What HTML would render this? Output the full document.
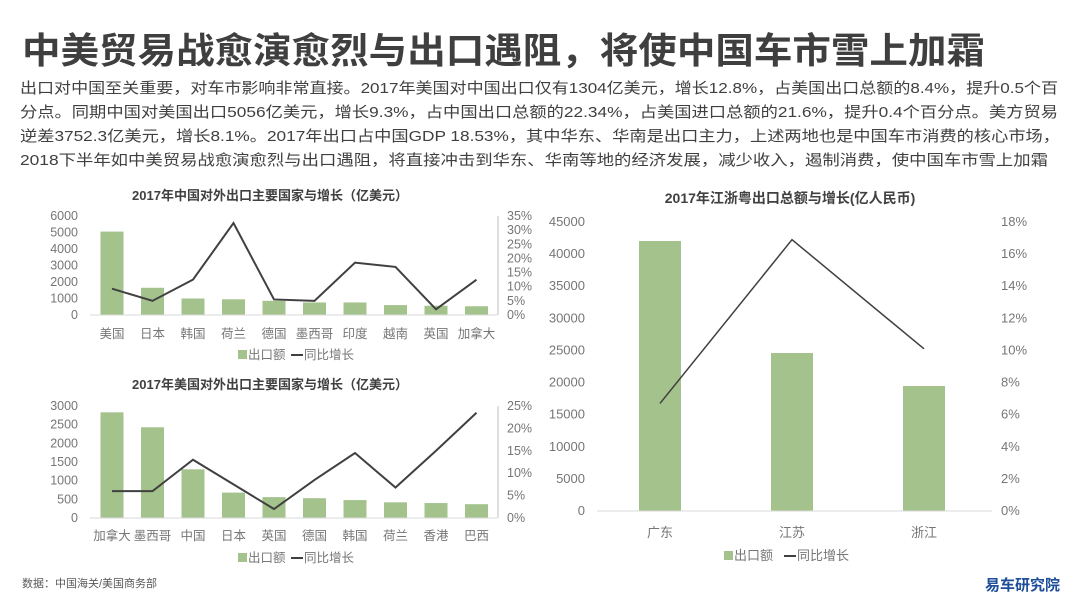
<!DOCTYPE html>
<html><head><meta charset="utf-8"><style>
body{margin:0;background:#fff;}
svg text{font-family:"Liberation Sans","Noto Sans CJK SC",sans-serif;}
</style></head><body>
<svg id="s" width="1080" height="608" viewBox="0 0 1080 608" xmlns="http://www.w3.org/2000/svg">
<text x="22" y="63" font-size="36" font-weight="bold" fill="#3f3f3f" textLength="963" lengthAdjust="spacingAndGlyphs">中美贸易战愈演愈烈与出口遇阻，将使中国车市雪上加霜</text>
<g font-size="15" fill="#404040">
<text x="20" y="93" textLength="1038" lengthAdjust="spacingAndGlyphs">出口对中国至关重要，对车市影响非常直接。2017年美国对中国出口仅有1304亿美元，增长12.8%，占美国出口总额的8.4%，提升0.5个百</text>
<text x="20" y="117" textLength="1038" lengthAdjust="spacingAndGlyphs">分点。同期中国对美国出口5056亿美元，增长9.3%，占中国出口总额的22.34%，占美国进口总额的21.6%，提升0.4个百分点。美方贸易</text>
<text x="20" y="141" textLength="1040" lengthAdjust="spacingAndGlyphs">逆差3752.3亿美元，增长8.1%。2017年出口占中国GDP 18.53%，其中华东、华南是出口主力，上述两地也是中国车市消费的核心市场，</text>
<text x="20" y="165" textLength="1028" lengthAdjust="spacingAndGlyphs">2018下半年如中美贸易战愈演愈烈与出口遇阻，将直接冲击到华东、华南等地的经济发展，减少收入，遏制消费，使中国车市雪上加霜</text>
</g>
<text x="22" y="587" font-size="11" fill="#595959">数据：中国海关/美国商务部</text>
<text x="1060" y="590" font-size="15" font-weight="bold" fill="#1f4e99" text-anchor="end">易车研究院</text>
</svg>
<script>
const c1Cats=["美国","日本","韩国","荷兰","德国","墨西哥","印度","越南","英国","加拿大"];
const c1Vals=[5056,1650,1000,950,860,760,760,600,560,530];
const c1Growth=[9.3,5,12.5,32.5,5.5,5,18.5,17,2,12.5];
const c1LeftTicks=[0,1000,2000,3000,4000,5000,6000];
const c1RightTicks=[0,5,10,15,20,25,30,35];
const c2Cats=["加拿大","墨西哥","中国","日本","英国","德国","韩国","荷兰","香港","巴西"];
const c2Vals=[2830,2430,1304,680,560,530,480,420,400,370];
const c2Growth=[6,6,13,7.5,2,8.5,14.5,6.8,15,23.5];
const c2LeftTicks=[0,500,1000,1500,2000,2500,3000];
const c2RightTicks=[0,5,10,15,20,25];
const c3Cats=["广东","江苏","浙江"];
const c3Vals=[42040,24600,19460];
const c3Growth=[6.7,16.9,10.1];
const c3LeftTicks=[0,5000,10000,15000,20000,25000,30000,35000,40000,45000];
const c3RightTicks=[0,2,4,6,8,10,12,14,16,18];
const NS="http://www.w3.org/2000/svg";
const svg=document.getElementById('s');
function mk(tag,attrs,parent,txt){const e=document.createElementNS(NS,tag);for(const k in attrs)e.setAttribute(k,attrs[k]);if(txt!==undefined)e.textContent=txt;(parent||svg).appendChild(e);return e;}
function chart(o){
  const g=mk('g',{});
  
  
  const lmax=o.lt[o.lt.length-1], rmax=o.rt[o.rt.length-1];
  const yL=v=>o.y0-(v/lmax)*(o.y0-o.y1);
  const yR=v=>o.y0-(v/rmax)*(o.y0-o.y1);
  const xc=i=>o.xStart+o.step*i;
  const col='#767676';
  const t=mk('text',{x:o.tx,y:o.ty,'font-size':o.tfs,'font-weight':'bold',fill:'#404040','text-anchor':'middle'},g,o.title);
  
  
  o.lt.forEach(v=>{const e=mk('text',{x:o.lx,y:yL(v)+4,'font-size':o.fs,fill:col,'text-anchor':'end'},g,String(v));
    
    });
  o.rt.forEach(v=>{const e=mk('text',{x:o.rx,y:yR(v)+4,'font-size':o.fs,fill:col},g,v+'%');
    
    });
  if(o.raxis){const a=mk('line',{x1:o.raxis,x2:o.raxis,y1:o.y1,y2:o.y0,stroke:'#bfbfbf'},g);
    
    }
  o.vals.forEach((v,i)=>{const b=mk('rect',{x:xc(i)-o.bw/2,y:yL(v),width:o.bw,height:o.y0-yL(v),fill:'#a3c28c'},g);
    
    });
  const ax=mk('line',{x1:o.bx1,x2:o.bx2,y1:o.y0,y2:o.y0,stroke:'#d9d9d9'},g);
  
  
  const pts=o.gr.map((v,i)=>xc(i)+','+yR(v)).join(' ');
  const pl=mk('polyline',{points:pts,fill:'none',stroke:'#404040','stroke-width':o.lw},g);
  
  
  o.cats.forEach((c,i)=>{const e=mk('text',{x:xc(i),y:o.cy,'font-size':o.fs,fill:col,'text-anchor':'middle'},g,c);
    
    });
  const lg=mk('g',{},g);
  
  
  mk('rect',{x:o.lgx,y:o.lgy-5,width:9,height:9,fill:'#a3c28c'},lg);
  mk('text',{x:o.lgx+10,y:o.lgy+4,'font-size':o.fs,fill:col},lg,'出口额');
  mk('line',{x1:o.lgx+o.lgo,x2:o.lgx+o.lgo+12,y1:o.lgy,y2:o.lgy,stroke:'#404040','stroke-width':2},lg);
  mk('text',{x:o.lgx+o.lgo+13,y:o.lgy+4,'font-size':o.fs,fill:col},lg,'同比增长');
}
chart({name:'china-export-chart',title:'2017年中国对外出口主要国家与增长（亿美元）',tx:270,ty:200,tfs:13,fs:12.5,
  cats:c1Cats,vals:c1Vals,gr:c1Growth,lt:c1LeftTicks,rt:c1RightTicks,y0:315,y1:216,xStart:112,step:40.5,bw:23,
  lx:78,rx:507,raxis:498,bx1:90,bx2:497,cy:338,lw:2,lgx:238,lgy:355,lgo:53});
chart({name:'us-export-chart',title:'2017年美国对外出口主要国家与增长（亿美元）',tx:270,ty:389,tfs:13,fs:12.5,
  cats:c2Cats,vals:c2Vals,gr:c2Growth,lt:c2LeftTicks,rt:c2RightTicks,y0:518,y1:406,xStart:112,step:40.5,bw:23,
  lx:78,rx:507,raxis:498,bx1:90,bx2:497,cy:540,lw:2,lgx:238,lgy:558,lgo:53});
chart({name:'provinces-export-chart',title:'2017年江浙粤出口总额与增长(亿人民币)',tx:790,ty:203,tfs:14,fs:13,
  cats:c3Cats,vals:c3Vals,gr:c3Growth,lt:c3LeftTicks,rt:c3RightTicks,y0:511,y1:222,xStart:660,step:132,bw:42,
  lx:585,rx:1001,raxis:0,bx1:597,bx2:992,cy:537,lw:1.5,lgx:724,lgy:556,lgo:60});
</script>
</body></html>
